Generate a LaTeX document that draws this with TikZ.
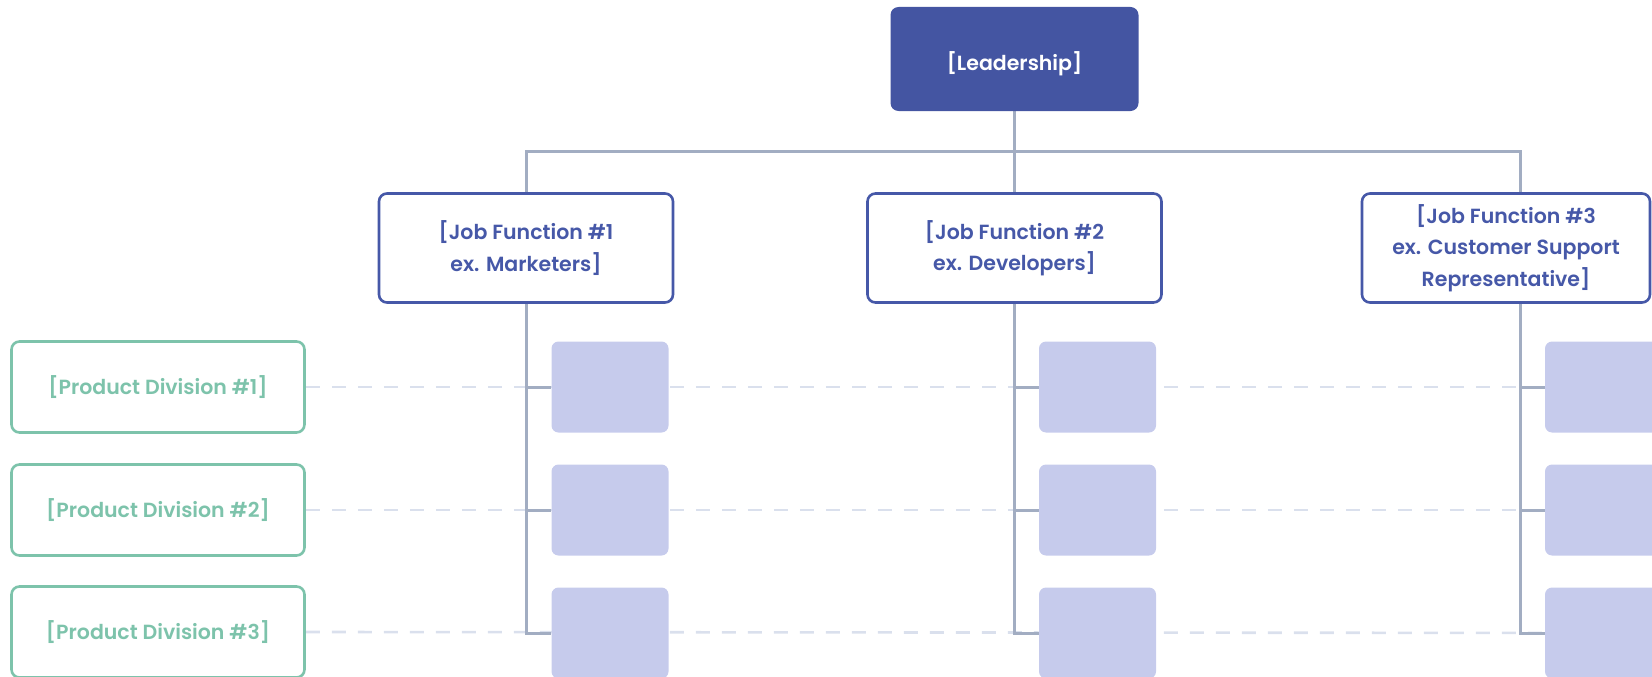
\documentclass[tikz,border=0pt]{standalone}
\usepackage{fontspec}
\newfontfamily\pfont{Poppins SemiBold}
\usetikzlibrary{backgrounds}
\definecolor{leadblue}{HTML}{4455A2}
\definecolor{jfblue}{HTML}{4658A8}
\definecolor{pdgreen}{HTML}{7DC3AB}
\definecolor{sqfill}{HTML}{C6CBEC}
\definecolor{connc}{HTML}{A2ADC2}
\definecolor{dashc}{HTML}{DAE0ED}
\begin{document}
\begin{tikzpicture}[x=1pt,y=-1pt,
  every node/.style={font=\pfont\fontsize{20.5}{31.5}\selectfont, align=center, inner sep=0pt},
  leadbox/.style={fill=leadblue, text=white, rounded corners=8pt, minimum width=248pt, minimum height=104pt, text height=28pt, text depth=5pt},
  jfbox/.style={draw=jfblue, line width=2.6pt, fill=white, text=jfblue, rounded corners=8pt, minimum width=294pt, minimum height=109pt},
  pdbox/.style={draw=pdgreen, line width=2.6pt, fill=white, text=pdgreen, rounded corners=8pt, minimum width=293pt, minimum height=91pt},
  sq/.style={fill=sqfill, rounded corners=7pt, minimum width=117pt, minimum height=91pt},
  conn/.style={draw=connc, line width=3pt},
  dline/.style={draw=dashc, line width=2.6pt, dash pattern=on 14pt off 12pt}]
\useasboundingbox (0,0) rectangle (1652,677);

\node[leadbox] (L) at (1014.5,59) {[Leadership]};

\node[jfbox] (J1) at (526,248) {[Job Function \#1\\ex. Marketers]};
\node[jfbox] (J2) at (1014.5,248) {[Job Function \#2\\ex. Developers]};
\node[jfbox, minimum width=288pt] (J3) at (1506,248) {[Job Function \#3\\ex. Customer Support\\Representative]};

\node[pdbox] (P1) at (158,387) {[Product Division \#1]};
\node[pdbox] (P2) at (158,510) {[Product Division \#2]};
\node[pdbox] (P3) at (158,632) {[Product Division \#3]};

\foreach \r/\y in {1/387,2/510,3/633}{
  \node[sq] (S1\r) at (610,\y) {};
  \node[sq] (S2\r) at (1097.5,\y) {};
  \node[sq] (S3\r) at (1603.5,\y) {};
}

\coordinate (b1) at (526,151);
\coordinate (b3) at (1520,151);
\coordinate (edge1) at (1652,387);
\coordinate (edge2) at (1652,510);
\coordinate (edge3) at (1652,633);

\begin{pgfonlayer}{background}
  \draw[dline] (P1.east) -- (edge1);
  \draw[dline] (P2.east) -- (edge2);
  \draw[dline] (P3.east) -- (edge3);
  \draw[conn] (L.south) -- (J2.north);
  \draw[conn] (J1.north) -- (b1) -- (b3) -- (b3 |- J3.north);
  % column 1
  \draw[conn] (J1.south) -- (J1.south |- S13.west) -- (S13.west);
  \draw[conn] (J1.south |- S11.west) -- (S11.west);
  \draw[conn] (J1.south |- S12.west) -- (S12.west);
  % column 2
  \draw[conn] (J2.south) -- (J2.south |- S23.west) -- (S23.west);
  \draw[conn] (J2.south |- S21.west) -- (S21.west);
  \draw[conn] (J2.south |- S22.west) -- (S22.west);
  % column 3
  \draw[conn] (b3 |- J3.south) -- (b3 |- S33.west) -- (S33.west);
  \draw[conn] (b3 |- S31.west) -- (S31.west);
  \draw[conn] (b3 |- S32.west) -- (S32.west);
\end{pgfonlayer}
\end{tikzpicture}
\end{document}
